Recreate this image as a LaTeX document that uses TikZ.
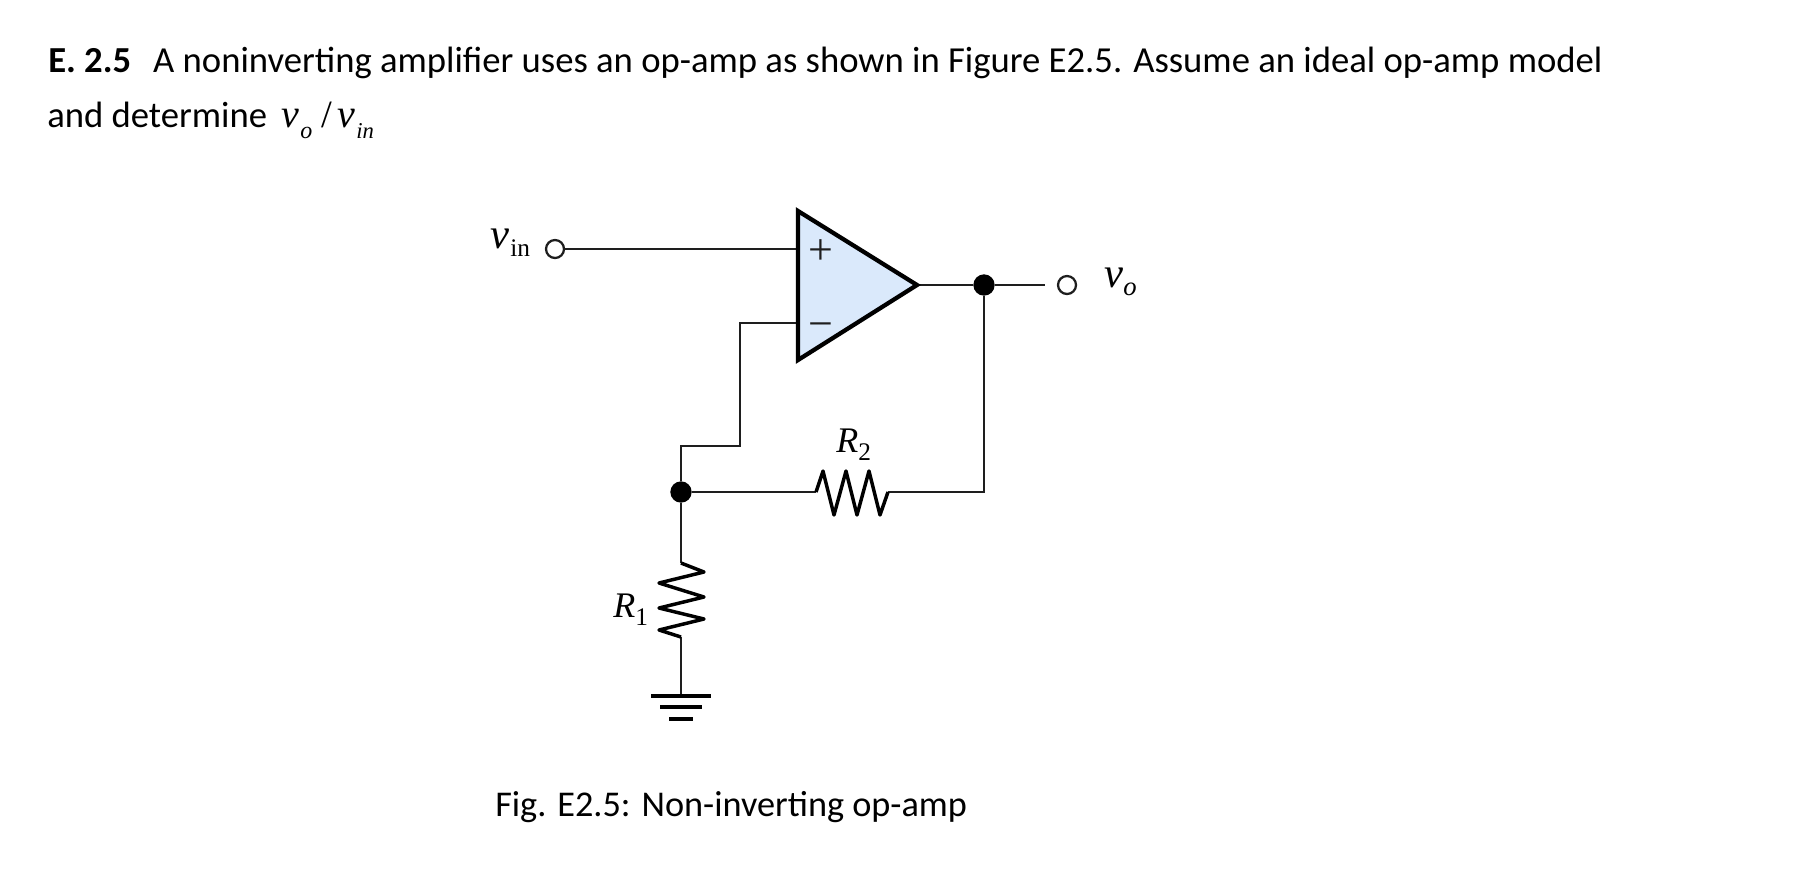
\documentclass[tikz,border=0pt]{standalone}
\usepackage{fontspec}
\setmainfont{Carlito}
\newfontfamily\circfont{Liberation Serif}
\definecolor{ampblue}{HTML}{DAE9FB}
\definecolor{inkgrey}{HTML}{1E1E1E}
\newcommand\SubLabel[2]{{\circfont\fontsize{27}{27}\selectfont\itshape #1\raisebox{-0.24em}{\fontsize{19}{19}\selectfont\upshape #2}}}
\tikzset{
  wire/.style={line width=1.8pt,draw=inkgrey,line join=miter},
  zigzag/.style={line width=2.6pt,draw=black,line join=round},
  amp/.style={line width=3.2pt,draw=black,fill=ampblue,line join=miter},
  gndbar/.style={line width=2.8pt,draw=black},
  jdot/.style={circle,fill=black,inner sep=0pt,minimum size=16pt},
  term/.style={circle,draw=inkgrey,line width=1.7pt,fill=white,inner sep=0pt,minimum size=13.5pt},
  bodytext/.style={anchor=base west,inner sep=0pt,font=\fontsize{27.5}{27.5}\selectfont},
  mathtext/.style={anchor=base west,inner sep=0pt},
  signtext/.style={anchor=base,inner sep=0pt,text=inkgrey,font=\circfont\fontsize{33}{33}\selectfont},
}
\begin{document}
\begin{tikzpicture}[x=0.75pt,y=-0.75pt]
\useasboundingbox (0,0) rectangle (1794,872);

%% text of the exercise

\node[bodytext] (title) at (48,72) {\textbf{E. 2.5}\hspace{0.6em}A noninverting amplifier uses an op-amp as shown in Figure E2.5. Assume an ideal op-amp model};
\node[bodytext] (second) at (47,127) {and determine};
\node[mathtext] (ratio) at (281,127) {\circfont\fontsize{30}{30}\selectfont\itshape v};
\node[mathtext] (ratioo) at (300,138) {\circfont\fontsize{18}{18}\selectfont\itshape o};
\node[mathtext] (slash) at (321,127) {\circfont\fontsize{29}{29}\selectfont /};
\node[mathtext] (ratiov) at (337,127) {\circfont\fontsize{30}{30}\selectfont\itshape v};
\node[mathtext] (ratioin) at (356,138) {\circfont\fontsize{17}{17}\selectfont\itshape in};
\node[bodytext,font=\fontsize{27.2}{27.2}\selectfont] (caption) at (495,816) {Fig. E2.5: Non-inverting op-amp};

%% characteristic points

\coordinate (ampTop) at (798,211);
\coordinate (ampBot) at (798,360);
\coordinate (ampTip) at (917,285);
\coordinate (ampPlus) at (798,249);
\coordinate (ampMinus) at (798,323);
\coordinate (fbA) at (740,323);
\coordinate (fbB) at (740,446);
\coordinate (fbC) at (681,446);
\coordinate (r2a) at (816,492);
\coordinate (r2b) at (888,492);
\coordinate (fbD) at (984,492);
\coordinate (r1a) at (681,563);
\coordinate (r1b) at (681,637);
\coordinate (gnd) at (681,696);

\node[term] (vinT) at (555,249) {};
\node[term] (voT) at (1067,285) {};
\node[jdot] (outJ) at (984,285) {};
\node[jdot] (fbJ) at (681,492) {};

%% draw wires

\draw[wire] (vinT) -- (ampPlus);
\draw[wire] (ampTip) -- (outJ) -- ++(61,0);
\draw[wire] (ampMinus) -- (fbA) -- (fbB) -- (fbC) -- (fbJ);
\draw[wire] (fbJ) -- (r2a);
\draw[wire] (outJ) -- (fbD) -- (r2b);
\draw[wire] (fbJ) -- (r1a);
\draw[wire] (r1b) -- (gnd);

%% draw resistors

\draw[zigzag] (r2a) -- ++(7,-21) -- ++(11,44) -- ++(12,-44)
  -- ++(11,44) -- ++(12,-44) -- ++(11,44) -- (r2b);
\draw[zigzag] (r1a) -- ++(23,9) -- ++(-45,11) -- ++(45,14) -- ++(-45,11)
  -- ++(45,11) -- ++(-45,11) -- (r1b);

%% draw op-amp and ground

\draw[amp] (ampTop) -- (ampTip) -- (ampBot) -- cycle;
\node[signtext] (plus) at (820.5,264) {+};
\node[signtext] (minus) at (820.5,338) {−};

\draw[gndbar] (gnd) ++(-30,0) -- ++(60,0);
\draw[gndbar] (gnd) ++(-21,11) -- ++(42,0);
\draw[gndbar] (gnd) ++(-12,23) -- ++(24,0);

%% put labels

\node[mathtext] (vinL) at (490,248) {\circfont\fontsize{32}{32}\selectfont\itshape v};
\node[mathtext] (vinS) at (510,256) {\circfont\fontsize{19}{19}\selectfont in};
\node[mathtext] (voL) at (1104,287) {\circfont\fontsize{32}{32}\selectfont\itshape v};
\node[mathtext] (voS) at (1123,295) {\circfont\fontsize{20}{20}\selectfont\itshape o};
\node[mathtext] (r2L) at (836,452) {\SubLabel{R}{2}};
\node[mathtext] (r1L) at (613,617) {\SubLabel{R}{1}};
\end{tikzpicture}
\end{document}
